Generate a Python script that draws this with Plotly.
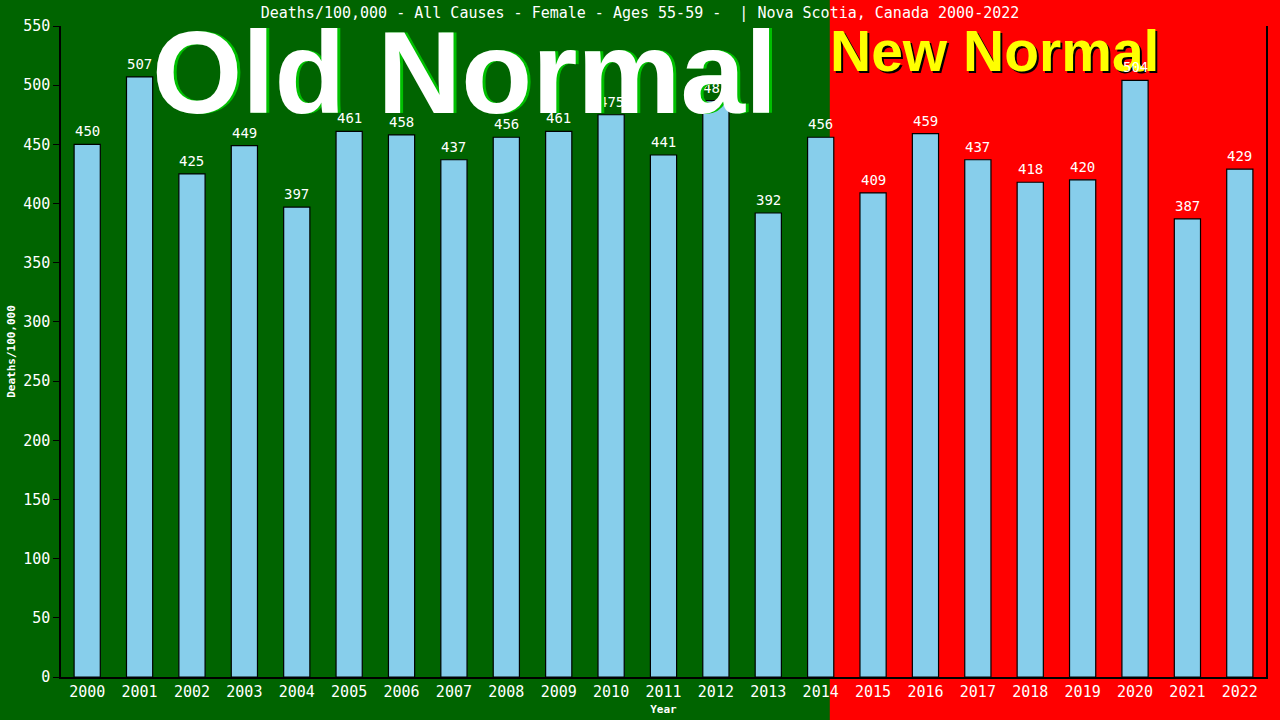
import plotly.graph_objects as go

# dados
anos = ['2000', '2001', '2002', '2003', '2004', '2005', '2006', '2007', '2008', '2009', '2010', '2011',
        '2012', '2013', '2014', '2015', '2016', '2017', '2018', '2019', '2020', '2021', '2022']
mortes = [450, 507, 425, 449, 397, 461, 458, 437, 456, 461, 475, 441,
          487, 392, 456, 409, 459, 437, 418, 420, 504, 387, 429]
ticks_y = list(range(0, 551, 50))

titulo = 'Deaths/100,000 - All Causes - Female - Ages 55-59 -\u00a0\u00a0| Nova Scotia, Canada 2000-2022'

mono = 'DejaVu Sans Mono'

fig = go.Figure()
fig.add_trace(go.Bar(
    x=anos, y=mortes,
    marker=dict(color='#87CEEB', line=dict(color='#000000', width=1.2)),
    cliponaxis=False,
))

# fundo vermelho "New Normal"
fig.add_shape(type='rect', xref='paper', yref='paper', x0=0.638, x1=1.02, y0=-0.1, y1=1.05,
              fillcolor='#FF0000', line=dict(width=0), layer='below')

# textos grandes
def texto(t, x, y, size, cor):
    fig.add_annotation(text=t, xref='paper', yref='paper', x=x, y=y, xanchor='center', yanchor='middle',
                       showarrow=False, font=dict(size=size, color=cor, family='Liberation Sans'))

texto('<b>New Normal</b>', 0.7765, 0.958, 57, 'black')
texto('<b>New Normal</b>', 0.7745, 0.962, 57, '#FFFF00')

# rotulos das barras (indice da categoria no eixo)
for i, v in enumerate(mortes):
    fig.add_annotation(x=i, y=v, xref='x', yref='y', text=str(v), showarrow=False,
                       yanchor='bottom', yshift=3,
                       font=dict(color='white', size=14, family=mono))

texto('<b>Old Normal</b>', 0.3375, 0.928, 116, '#00C000')
texto('<b>Old Normal</b>', 0.3345, 0.928, 116, 'white')

fig.update_layout(
    width=1280, height=720,
    paper_bgcolor='#006400', plot_bgcolor='rgba(0,0,0,0)',
    margin=dict(l=61, r=14, t=26, b=43, autoexpand=False),
    bargap=0.5, showlegend=False,
    title=dict(text=titulo, x=0.5, xref='container', xanchor='center', y=0.982, yref='container',
               yanchor='middle', font=dict(size=15, color='white', family=mono)),
    font=dict(family=mono, color='white'),
)
fig.update_xaxes(type='category', showline=True, linecolor='black', linewidth=1.5, ticks='', showgrid=False,
                 automargin=False,
                 tickfont=dict(size=15, color='white', family=mono),
                 title=dict(text='<b>Year</b>', font=dict(size=11, color='white', family=mono), standoff=6))
fig.update_yaxes(range=[0, 550], tickvals=ticks_y, showline=True, linecolor='black', linewidth=1.5,
                 mirror=True, ticks='outside', ticklen=6, tickcolor='black', showgrid=False, zeroline=False,
                 automargin=False,
                 tickfont=dict(size=15, color='white', family=mono),
                 title=dict(text='<b>Deaths/100,000</b>', font=dict(size=11, color='white', family=mono),
                            standoff=5))

fig.write_html("out.html", config={'displayModeBar': False},
               post_script="document.body.style.margin='0';")
